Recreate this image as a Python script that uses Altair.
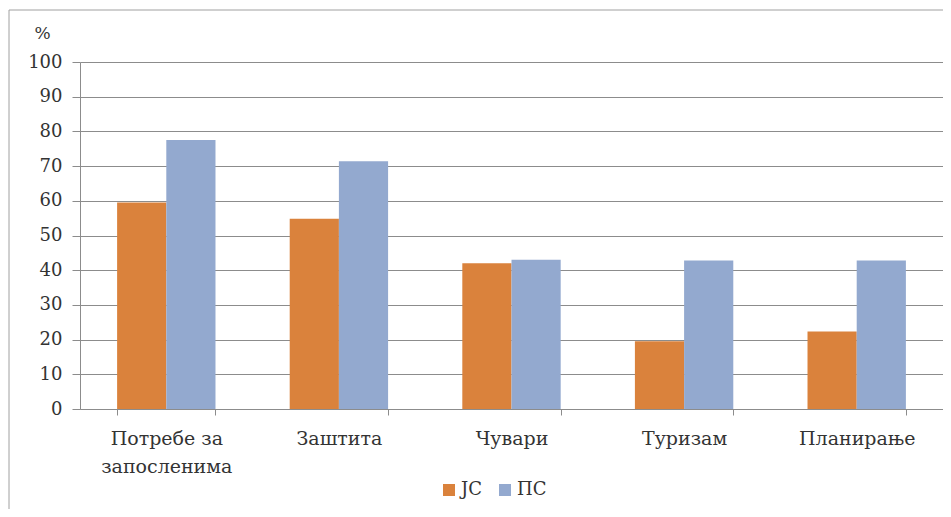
import altair as alt
import pandas as pd

categories = ["Потребе за|запосленима", "Заштита", "Чувари", "Туризам", "Планирање"]
series = ["JC", "ПС"]
jc_values = [59.5, 54.8, 42.0, 19.5, 22.3]
ps_values = [77.5, 71.4, 43.0, 42.8, 42.8]
y_ticks = [0, 10, 20, 30, 40, 50, 60, 70, 80, 90, 100]
colors = ["#DA823C", "#93A9CF"]

rows = []
for c, a, b in zip(categories, jc_values, ps_values):
    rows.append({"cat": c, "series": series[0], "value": a})
    rows.append({"cat": c, "series": series[1], "value": b})
df = pd.DataFrame(rows)

FONT = "DejaVu Serif"
GRAY = "#8c8c8c"
TXT = "#333333"

bars = alt.Chart(df).mark_bar().encode(
    x=alt.X("cat:N", sort=categories,
            scale=alt.Scale(paddingInner=0.43, paddingOuter=0.215),
            axis=alt.Axis(title=None, labelAngle=0, labelExpr="split(datum.label, '|')",
                          tickBand="extent", tickSize=6, tickColor=GRAY, domainColor=GRAY,
                          labelFont=FONT, labelFontSize=19, labelColor=TXT,
                          labelPadding=14, labelLineHeight=28, grid=False)),
    xOffset=alt.XOffset("series:N", sort=series),
    y=alt.Y("value:Q", scale=alt.Scale(domain=[0, 100], nice=False),
            axis=alt.Axis(values=y_ticks, title="%", titleAngle=0, titleX=-38, titleY=-29,
                          titleAlign="center", titleBaseline="middle", titleFont=FONT,
                          titleFontSize=17, titleFontWeight="normal", titleColor=TXT,
                          labelFont=FONT, labelFontSize=18, labelColor=TXT, labelPadding=10,
                          tickSize=8, tickColor=GRAY, domainColor=GRAY,
                          grid=True, gridColor=GRAY, gridWidth=1)),
    color=alt.Color("series:N", sort=series,
                    scale=alt.Scale(domain=series, range=colors),
                    legend=alt.Legend(title=None, orient="none", legendX=360, legendY=419,
                                      direction="horizontal", symbolType="square",
                                      symbolSize=144, symbolStrokeWidth=0,
                                      labelFont=FONT, labelFontSize=18, labelColor=TXT,
                                      labelOffset=3, columnPadding=14)),
)

frame_src = alt.Data(values=[{"k": 1}])
top_rule = alt.Chart(frame_src).mark_rule(color="#a0a0a0", strokeWidth=1).encode(
    x=alt.value(-71), x2=alt.value(863), y=alt.value(-52))
left_rule = alt.Chart(frame_src).mark_rule(color="#a0a0a0", strokeWidth=1).encode(
    x=alt.value(-71), y=alt.value(-52), y2=alt.value(447))

chart = alt.layer(bars, top_rule, left_rule).properties(
    width=863, height=347,
    autosize=alt.AutoSizeParams(type="none"),
    padding={"left": 72, "top": 54, "right": 0, "bottom": 100},
    background="white",
).configure_view(stroke=None)

chart.save("out.html", embed_options={"renderer": "svg", "actions": False})
